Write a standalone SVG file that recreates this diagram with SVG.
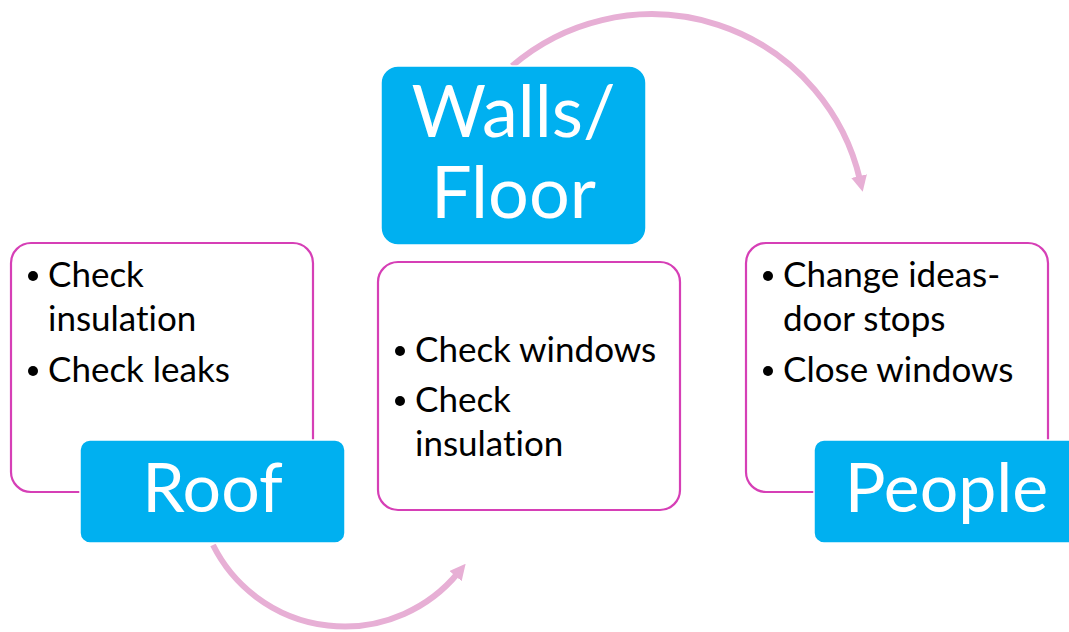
<svg xmlns="http://www.w3.org/2000/svg" width="1069" height="632" viewBox="0 0 1069 632">
<style>
.card{fill:#FFFFFF;stroke:#D63FB6;stroke-width:2.2}
.head{fill:#00B0F0;stroke:#FFFFFF;stroke-width:1.5}
.ht{font-family:Lato,"Liberation Sans",sans-serif;fill:#FFFFFF;text-anchor:middle;font-variant-ligatures:none}
.bt{font-family:Lato,"Liberation Sans",sans-serif;font-size:35px;fill:#000000;font-variant-ligatures:none}
.arc{fill:none;stroke:#E7AFD5;stroke-width:6}
</style>
<defs>
<marker id="ah" viewBox="0 0 16 16" refX="4" refY="8" markerWidth="16" markerHeight="16" markerUnits="userSpaceOnUse" orient="auto">
<path d="M0,0 L16,8 L0,16 z" fill="#E7AFD5"/>
</marker>
</defs>
<rect width="1069" height="632" fill="#FFFFFF"/>
<g id="connectors">
<path class="arc" d="M512,66 A214,214 0 0 1 860,180" marker-end="url(#ah)"/>
<path class="arc" d="M213,545 A147,147 0 0 0 458,573" marker-end="url(#ah)"/>
</g>
<g id="roof-card">
<rect class="card" x="11" y="243" width="302" height="249" rx="20"/>
<circle cx="33" cy="276" r="5"/>
<circle cx="33" cy="371" r="5"/>
<text class="bt" x="48" y="287">Check</text>
<text class="bt" x="48" y="331">insulation</text>
<text class="bt" x="48" y="382">Check leaks</text>
</g>
<g id="roof">
<rect class="head" x="80" y="440" width="265" height="103" rx="10"/>
<text class="ht" x="212.5" y="512" font-size="68">Roof</text>
</g>
<g id="walls-card">
<rect class="card" x="378" y="262" width="302" height="248" rx="20"/>
<circle cx="400" cy="351" r="5"/>
<circle cx="400" cy="401" r="5"/>
<text class="bt" x="415" y="362">Check windows</text>
<text class="bt" x="415" y="412">Check</text>
<text class="bt" x="415" y="456">insulation</text>
</g>
<g id="walls">
<rect class="head" x="381" y="66" width="265" height="179" rx="17"/>
<text class="ht" x="513.5" y="137" font-size="72">Walls/</text>
<text class="ht" x="513.5" y="218" font-size="72">Floor</text>
</g>
<g id="people-card">
<rect class="card" x="746" y="243" width="302" height="249" rx="20"/>
<circle cx="768" cy="276" r="5"/>
<circle cx="768" cy="371" r="5"/>
<text class="bt" x="783" y="287">Change ideas-</text>
<text class="bt" x="783" y="331">door stops</text>
<text class="bt" x="783" y="382">Close windows</text>
</g>
<g id="people">
<rect class="head" x="814" y="440" width="265" height="103" rx="10"/>
<text class="ht" x="946.5" y="512" font-size="68">People</text>
</g>
</svg>
